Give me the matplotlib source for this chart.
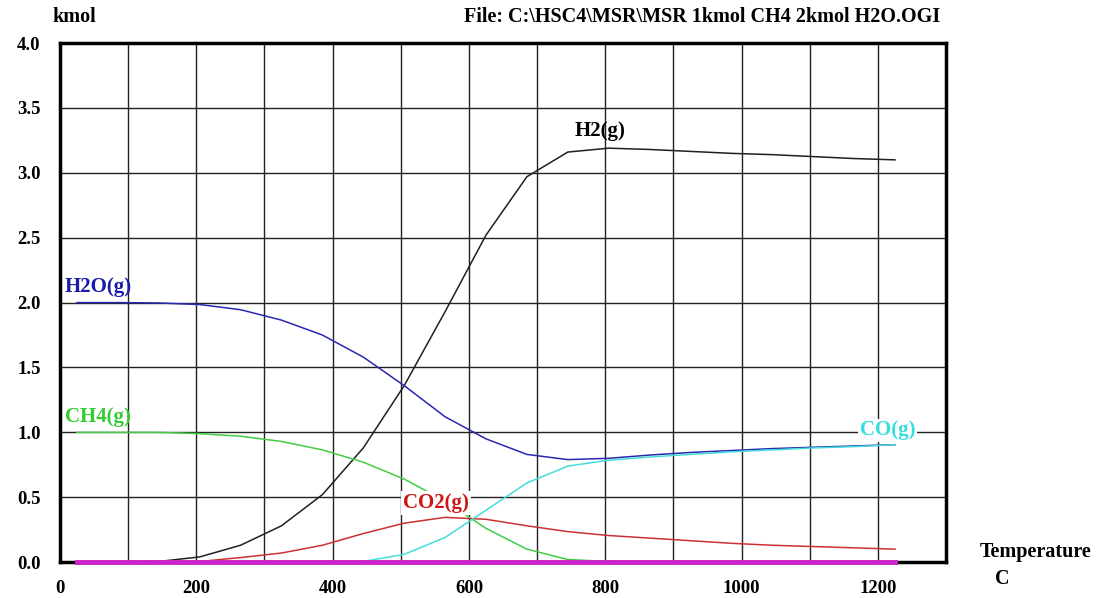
import numpy as np
import matplotlib.pyplot as plt

# temperaturas (C) y cantidades en kmol
temp = [25, 85, 145, 205, 265, 325, 385, 445, 505, 565, 625, 685, 745,
        805, 865, 925, 985, 1045, 1105, 1165, 1225]
h2 = [0, 0, 0.005, 0.04, 0.13, 0.28, 0.52, 0.88, 1.36, 1.93, 2.52, 2.97, 3.16,
      3.19, 3.18, 3.165, 3.15, 3.14, 3.125, 3.11, 3.10]
h2o = [2.0, 2.0, 1.997, 1.985, 1.945, 1.865, 1.75, 1.58, 1.36, 1.12, 0.95, 0.83, 0.79,
       0.80, 0.825, 0.845, 0.86, 0.875, 0.885, 0.895, 0.905]
ch4 = [1.0, 1.0, 1.0, 0.99, 0.97, 0.93, 0.865, 0.77, 0.64, 0.47, 0.26, 0.10, 0.02,
       0.005, 0, 0, 0, 0, 0, 0, 0]
co2 = [0, 0, 0, 0.005, 0.035, 0.07, 0.13, 0.22, 0.30, 0.345, 0.33, 0.28, 0.235,
       0.205, 0.185, 0.165, 0.145, 0.13, 0.12, 0.11, 0.10]
co = [0, 0, 0, 0, 0, 0, 0, 0.005, 0.06, 0.19, 0.40, 0.61, 0.74,
      0.785, 0.81, 0.83, 0.85, 0.865, 0.88, 0.89, 0.905]
otro = [0] * len(temp)

xticks = [0, 200, 400, 600, 800, 1000, 1200]
yticks = [0.0, 0.5, 1.0, 1.5, 2.0, 2.5, 3.0, 3.5, 4.0]

plt.rcParams['font.family'] = ['Liberation Serif', 'DejaVu Serif']
plt.rcParams['font.weight'] = 'bold'

fig = plt.figure(figsize=(11.04, 5.98), dpi=100)
ax = fig.add_axes([0.0543, 0.060, 0.8027, 0.868])

ax.set_xlim(0, 1300)
ax.set_ylim(0, 4.0)
ax.set_yticks(yticks)
ax.grid(True, color='#222222', linewidth=1.0, zorder=1)
ax.set_xticks(np.arange(0, 1301, 100))
ax.set_xticklabels(['' if t not in xticks else str(t) for t in range(0, 1301, 100)])
ax.set_yticklabels(['%.1f' % v for v in yticks])
ax.tick_params(axis='x', length=0, labelsize=13.5, pad=13)
ax.tick_params(axis='y', length=0, labelsize=13.5, pad=14)
for lab in ax.get_xticklabels() + ax.get_yticklabels():
    lab.set_fontweight('bold')

for s in ax.spines.values():
    s.set_linewidth(2.5)
    s.set_zorder(5)

ax.plot(temp, h2, color='#202020', lw=1.1, zorder=3)
ax.plot(temp, h2o, color='#2828b0', lw=1.1, zorder=3)
ax.plot(temp, ch4, color='#44cc44', lw=1.1, zorder=3)
ax.plot(temp, co2, color='#cc3030', lw=1.1, zorder=3)
ax.plot(temp, co, color='#44dddd', lw=1.1, zorder=3)
ax.plot(temp, otro, color='#cc22cc', lw=3.5, zorder=6, clip_on=False)

ax.text(7, 2.12, 'H2O(g)', color='#1a1aa8', fontsize=15, fontweight='bold', va='center', zorder=7)
ax.text(7, 1.12, 'CH4(g)', color='#33cc33', fontsize=15, fontweight='bold', va='center', zorder=7)
ax.text(755, 3.32, 'H2(g)', color='black', fontsize=15, fontweight='bold', va='center', zorder=7)
ax.text(503, 0.455, 'CO2(g)', color='#cc1515', fontsize=15, fontweight='bold', va='center', zorder=7,
        bbox=dict(facecolor='white', edgecolor='none', pad=1.5))
ax.text(1173, 1.015, 'CO(g)', color='#33dddd', fontsize=15, fontweight='bold', va='center', zorder=7,
        bbox=dict(facecolor='white', edgecolor='none', pad=1))

fig.text(52 / 1104, 1 - 17 / 598, 'kmol', fontsize=14.5, fontweight='bold', va='center')
fig.text(940 / 1104, 1 - 17 / 598, r'File: C:\HSC4\MSR\MSR 1kmol CH4 2kmol H2O.OGI',
         fontsize=14.5, fontweight='bold', va='center', ha='right')
fig.text(980 / 1104, 1 - 552 / 598, 'Temperature', fontsize=14.5, fontweight='bold', va='center')
fig.text(995 / 1104, 1 - 579 / 598, 'C', fontsize=14.5, fontweight='bold', va='center')

fig.savefig('out.png', dpi=100)
